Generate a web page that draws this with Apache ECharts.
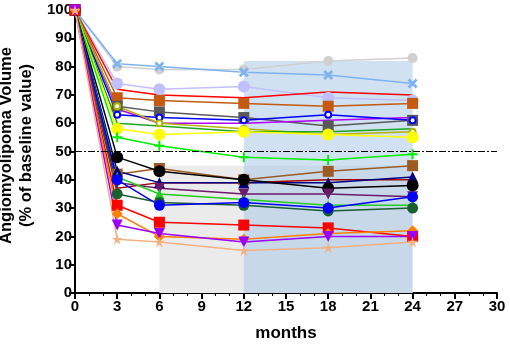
<!DOCTYPE html>
<html>
<head>
<meta charset="utf-8">
<script src="https://cdn.jsdelivr.net/npm/echarts@6/dist/echarts.min.js"></script>
<style>
  html, body { margin: 0; padding: 0; background: #fff; }
  #chart { width: 510px; height: 345px; }
</style>
</head>
<body>
<div id="chart"></div>
<script>
// months of follow-up
var months = [0, 3, 6, 12, 18, 24];

// % of baseline volume, one array per lesion
var lightBlueX   = [100, 81, 80, 78, 77, 74];
var grayCirc     = [100, 80, 79, 79, 82, 83];
var lavenderCirc = [100, 74, 72, 73, 69, 68];
var redLine      = [100, 72, 70, 69, 71, 70];
var rustSq       = [100, 69, 68, 67, 66, 67];
var grySq        = [100, 66, 64, 62, 59, 61];
var blueSmall    = [100, 63, 62, 61, 63, 61];
var purpleLine   = [100, 65, 60, 60, 61, 62];
var oliveCirc    = [100, 66, 60, 58, 56, 57];
var yellowCirc   = [100, 58, 56, 57, 56, 55];
var greenLine    = [100, 60, 59, 57, 57, 58];
var limePlus     = [100, 55, 52, 48, 47, 49];
var blackCirc    = [100, 48, 43, 40, 37, 38];
var brownSq      = [100, 42, 44, 40, 43, 45];
var navyTri      = [100, 43, 39, 39, 39, 41];
var maroonLine   = [100, 37, 39, 39, 40, 40];
var plumTri      = [100, 39, 37, 35, 35, 34];
var greenTri     = [100, 41, 35, 33, 31, 31];
var blueCirc     = [100, 40, 31, 32, 30, 34];
var darkGreen    = [100, 35, 32, 31, 29, 30];
var redSq        = [100, 31, 25, 24, 23, 20];
var orangeDia    = [100, 28, 20, 19, 21, 22];
var violetTri    = [100, 24, 21, 18, 20, 20];
var peachStar    = [100, 19, 18, 15, 16, 18];

var xTicks = [0, 30, 3];
var yTicks = [0, 100, 10];
var cutoff = 50;

var X_PATH = 'path://M2,0 L5,3 L8,0 L10,2 L7,5 L10,8 L8,10 L5,7 L2,10 L0,8 L3,5 L0,2 Z';
var PLUS_PATH = 'path://M4,0 H6 V4 H10 V6 H6 V10 H4 V6 H0 V4 H4 Z';
var STAR_PATH = 'path://M5,0 L6,3.8 L10,3.8 L6.8,6 L8.1,10 L5,7.4 L1.9,10 L3.2,6 L0,3.8 L4,3.8 Z';

function pts(vals) {
    return months.map(function(m, i) { return [m, vals[i]]; });
}

function line(vals, color, symbol, size, rotate) {
    return {
        type: 'line',
        data: pts(vals),
        symbol: symbol,
        symbolSize: size,
        symbolRotate: rotate || 0,
        showAllSymbol: true,
        lineStyle: { color: color, width: 1.5 },
        itemStyle: { color: color, borderColor: color, borderWidth: symbol === 'emptyCircle' ? 2 : 0 },
        z: 3,
        animation: false
    };
}

var chart = echarts.init(document.getElementById('chart'));

var series = [
    // shaded periods + 50% line
    {
        type: 'line',
        data: [],
        z: 1,
        markArea: {
            silent: true,
            data: [
                [{ xAxis: 6, yAxis: 0, itemStyle: { color: '#ebebeb' } }, { xAxis: 24, yAxis: 45 }],
                [{ xAxis: 12, yAxis: 0, itemStyle: { color: 'rgba(170,200,232,0.55)' } }, { xAxis: 24, yAxis: 82 }]
            ]
        },
        markLine: {
            silent: true,
            symbol: 'none',
            label: { show: false },
            lineStyle: { color: '#000', width: 1, type: [7, 2, 2, 2] },
            data: [{ yAxis: cutoff }]
        }
    },
    line(grayCirc, '#d0d0d0', 'circle', 10),
    line(lightBlueX, '#7fb2f0', X_PATH, 10),
    line(lavenderCirc, '#c0c0ff', 'circle', 12),
    line(redLine, '#ff0000', 'none', 4),
    line(rustSq, '#c55a11', 'rect', 11),
    line(grySq, '#595959', 'rect', 11),
    line(purpleLine, '#b000ff', 'none', 4),
    line(blueSmall, '#0000ff', 'emptyCircle', 6),
    line(oliveCirc, '#b3b300', 'emptyCircle', 6),
    line(greenLine, '#1fa51f', 'none', 4),
    line(yellowCirc, '#ffff00', 'circle', 12),
    line(limePlus, '#00ee00', PLUS_PATH, 10),
    line(maroonLine, '#a00000', 'none', 4),
    line(brownSq, '#9c5b24', 'rect', 11),
    line(navyTri, '#000080', 'triangle', 11),
    line(blackCirc, '#000000', 'circle', 12),
    line(plumTri, '#6a1b6a', 'triangle', 11, 180),
    line(greenTri, '#22cc22', 'triangle', 10),
    line(darkGreen, '#1b5e30', 'circle', 11),
    line(blueCirc, '#0000ff', 'circle', 11),
    line(redSq, '#ff0000', 'rect', 11),
    line(orangeDia, '#ff8000', 'diamond', 11),
    line(violetTri, '#9900ff', 'triangle', 11, 180),
    line(peachStar, '#f4b183', STAR_PATH, 11)
];

var option = {
    animation: false,
    grid: {
        left: 75,
        right: 13,
        top: 10,
        bottom: 52,
        outerBoundsMode: 'none'
    },
    xAxis: {
        type: 'value',
        min: xTicks[0],
        max: xTicks[1],
        interval: xTicks[2],
        name: 'months',
        nameLocation: 'middle',
        nameGap: 32,
        nameTextStyle: { color: '#000', fontSize: 17, fontWeight: 'bold', fontFamily: 'Liberation Sans' },
        axisLine: { lineStyle: { color: '#000', width: 2 } },
        axisTick: { show: true, length: 6, lineStyle: { color: '#000', width: 2 } },
        minorTick: { show: true, splitNumber: 3, length: 3, lineStyle: { color: '#000', width: 1 } },
        axisLabel: { color: '#000', fontSize: 15, fontWeight: 'bold', fontFamily: 'Liberation Sans', margin: 6 },
        splitLine: { show: false }
    },
    yAxis: {
        type: 'value',
        min: yTicks[0],
        max: yTicks[1],
        interval: yTicks[2],
        name: 'Angiomyolipoma Volume\n(% of baseline value)',
        nameLocation: 'middle',
        nameGap: 37,
        nameTextStyle: {
            color: '#000', fontSize: 16.5, fontWeight: 'bold', fontFamily: 'Liberation Sans',
            lineHeight: 20, padding: [0, 0, 0, 12]
        },
        axisLine: { show: true, lineStyle: { color: '#000', width: 2 } },
        axisTick: { show: true, length: 6, lineStyle: { color: '#000', width: 2 } },
        axisLabel: { color: '#000', fontSize: 15, fontWeight: 'bold', fontFamily: 'Liberation Sans', margin: 3 },
        splitLine: { show: false }
    },
    series: series
};

chart.setOption(option);
</script>
</body>
</html>
